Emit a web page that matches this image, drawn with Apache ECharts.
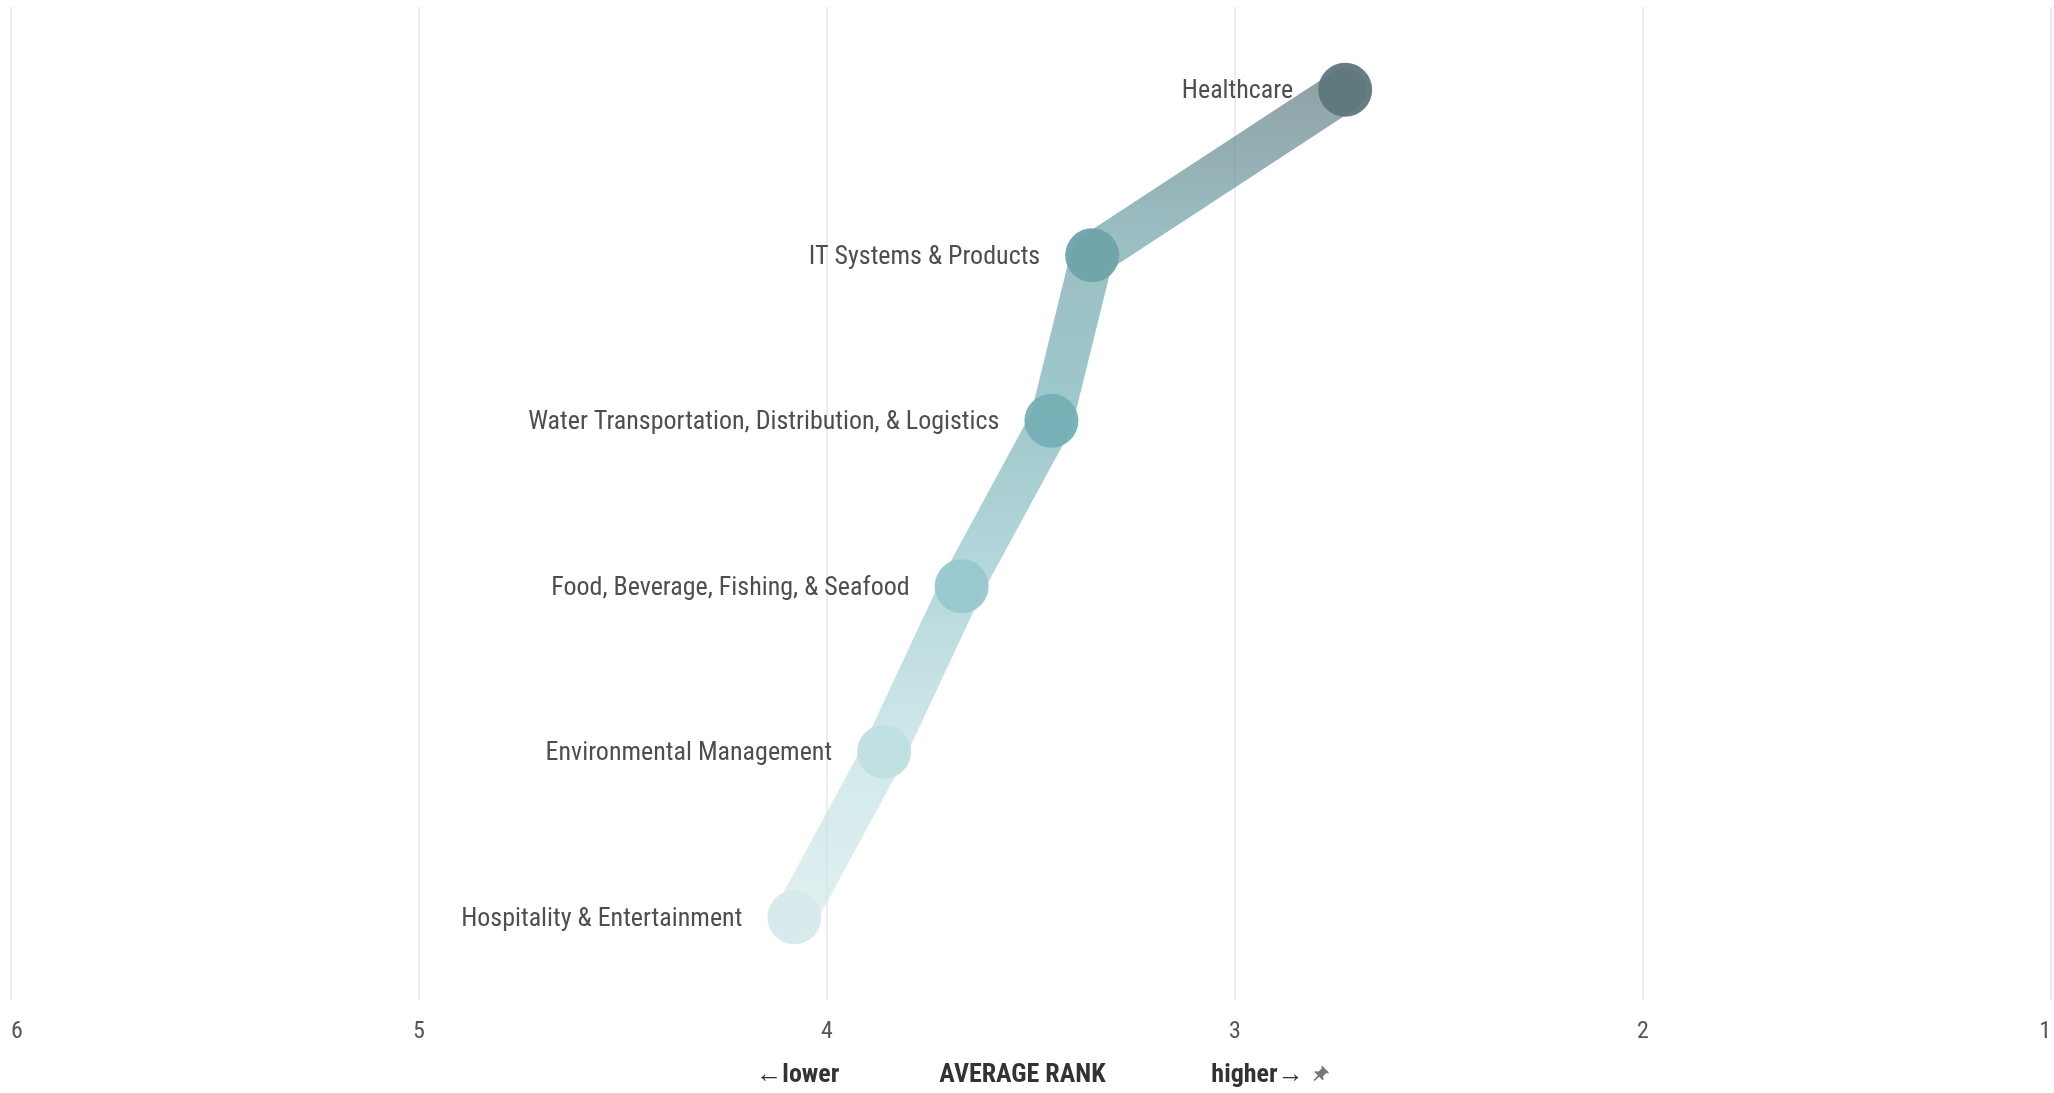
<!DOCTYPE html>
<html>
<head>
<meta charset="utf-8">
<script src="https://cdn.jsdelivr.net/npm/echarts@6/dist/echarts.min.js"></script>
<style>
  html, body { margin: 0; padding: 0; background: #fff; }
  #chart { width: 2054px; height: 1093px; }
</style>
</head>
<body>
<div id="chart"></div>
<script>
// 行业（从上到下）
const industries = [
    'Healthcare',
    'IT Systems & Products',
    'Water Transportation, Distribution, & Logistics',
    'Food, Beverage, Fishing, & Seafood',
    'Environmental Management',
    'Hospitality & Entertainment'
];

// 平均排名
const avgRank = [2.73, 3.35, 3.45, 3.67, 3.86, 4.08];

// 刻度标签
const rankTicks = [6, 5, 4, 3, 2, 1];

// 点颜色（深到浅）
const dotColors = ['#5e777c', '#6ea3a9', '#75b0b5', '#98c8cd', '#bfdfe2', '#d6eaeb'];

const FONT = '"Roboto Condensed", "Liberation Sans Narrow", "Roboto", sans-serif';

// 灰色图钉图标
const PIN_SVG = 'data:image/svg+xml;utf8,' + encodeURIComponent(
    '<svg xmlns="http://www.w3.org/2000/svg" viewBox="0 0 24 24">' +
    '<path transform="rotate(45 12 12)" fill="#777" d="M16 9V4h1c.55 0 1-.45 1-1s-.45-1-1-1H7c-.55 0-1 .45-1 1s.45 1 1 1h1v5c0 1.66-1.34 3-3 3v2h5.97v7l1 1 1-1v-7H19v-2c-1.66 0-3-1.34-3-3z"/>' +
    '</svg>'
);

const chart = echarts.init(document.getElementById('chart'));

const seriesData = avgRank.map(function (v, i) {
    return {
        value: [v, industries[i]],
        itemStyle: { color: dotColors[i] }
    };
});

const titleStyle = { fontSize: 26, fontWeight: 'bold', color: '#333', fontFamily: FONT, align: 'left' };

chart.setOption({
    animation: false,
    grid: {
        left: 11,
        right: 3,
        top: 7,
        bottom: 91
    },
    xAxis: {
        type: 'value',
        min: 1,
        max: 6,
        interval: 1,
        inverse: true,
        axisLine: { show: false },
        axisTick: { show: false },
        splitLine: { lineStyle: { color: '#e6e6e6', width: 1.5 } },
        axisLabel: {
            color: '#555',
            fontFamily: FONT,
            fontSize: 24,
            margin: 20,
            alignMinLabel: 'right',
            alignMaxLabel: 'left',
            formatter: function (v) {
                return rankTicks.indexOf(v) >= 0 ? String(v) : '';
            }
        },
        name: '{a|←lower}{b|AVERAGE RANK}{c|higher→ }{pin|}',
        nameLocation: 'middle',
        nameGap: 62,
        nameTextStyle: {
            padding: [0, 0, 0, 24],
            rich: {
                a: Object.assign({ width: 183 }, titleStyle),
                b: Object.assign({ width: 272 }, titleStyle),
                c: Object.assign({}, titleStyle),
                pin: { width: 20, height: 20, align: 'left', backgroundColor: { image: PIN_SVG } }
            }
        }
    },
    yAxis: {
        type: 'category',
        data: industries,
        inverse: true,
        show: false
    },
    series: [{
        type: 'line',
        data: seriesData,
        symbol: 'circle',
        symbolSize: 54,
        lineStyle: {
            width: 43,
            opacity: 0.7,
            cap: 'round',
            join: 'round',
            color: {
                type: 'linear',
                x: 0, y: 0, x2: 0, y2: 1,
                colorStops: [
                    { offset: 0, color: '#5e777c' },
                    { offset: 0.2, color: '#6ea3a9' },
                    { offset: 0.4, color: '#75b0b5' },
                    { offset: 0.6, color: '#98c8cd' },
                    { offset: 0.8, color: '#bfdfe2' },
                    { offset: 1, color: '#d6eaeb' }
                ]
            }
        },
        itemStyle: { opacity: 0.95 },
        label: {
            show: true,
            position: 'left',
            distance: 25,
            offset: [0, 2],
            color: '#444',
            fontFamily: FONT,
            fontSize: 26,
            formatter: function (p) { return p.value[1]; }
        },
        emphasis: { disabled: true }
    }]
});

window.addEventListener('resize', function () {
    chart.resize();
});
</script>
</body>
</html>
